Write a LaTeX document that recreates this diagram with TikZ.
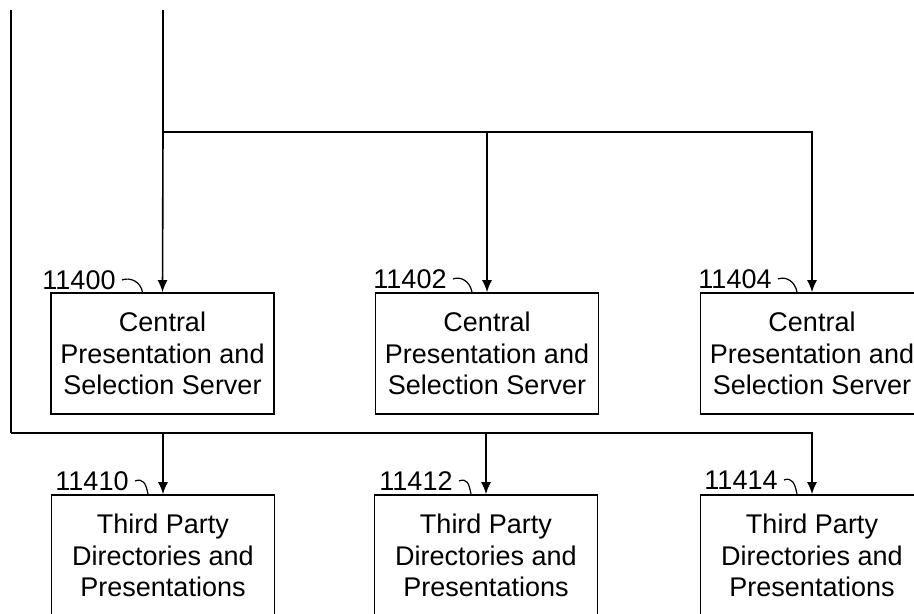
\documentclass[tikz,border=0pt]{standalone}
\usepackage{fontspec}
\setmainfont{Liberation Sans}
\usetikzlibrary{arrows.meta}
\tikzset{
  box/.style={draw, line width=0.8pt, minimum width=111.5pt, minimum height=60.5pt, inner sep=0pt, align=center, font=\fontsize{13.5}{15.75}\selectfont},
  refno/.style={inner sep=0pt, font=\fontsize{13.5}{15.75}\selectfont},
  wire/.style={line width=0.8pt},
  feed/.style={wire, -{Latex[length=6pt,width=5pt]}},
  lead/.style={line width=0.6pt}
}
% leader from a reference number to the top edge of its box
\newcommand{\leader}[3]{ \draw[lead] ([xshift=3pt]#1.east) .. controls +(8,-3) and +(-2,-11) .. ([xshift=#3]#2.north); }

\begin{document}
\begin{tikzpicture}[x=0.5pt, y=-0.5pt]
\useasboundingbox (0,0) rectangle (914,614);
\clip (0,0) rectangle (914,614);

% row1
\node[box] (cps1) at (162.5,353.5) {Central\\Presentation and\\Selection Server};
\node[box] (cps2) at (487,353.5) {Central\\Presentation and\\Selection Server};
\node[box] (cps3) at (812,353.5) {Central\\Presentation and\\Selection Server};
% row2
\node[box] (tpd1) at (163,555.5) {Third Party\\Directories and\\Presentations};
\node[box] (tpd2) at (486,555.5) {Third Party\\Directories and\\Presentations};
\node[box] (tpd3) at (812,555.5) {Third Party\\Directories and\\Presentations};

% reference numbers
\node[refno] (n11400) at (79,280) {11400};
\node[refno] (n11402) at (410,279) {11402};
\node[refno] (n11404) at (735,279) {11404};
\node[refno] (n11410) at (92,481) {11410};
\node[refno] (n11412) at (416,481) {11412};
\node[refno] (n11414) at (741,480) {11414};
\leader{n11400}{cps1}{-10pt}
\leader{n11402}{cps2}{-7.5pt}
\leader{n11404}{cps3}{-7.5pt}
\leader{n11410}{tpd1}{-7.5pt}
\leader{n11412}{tpd2}{-7.5pt}
\leader{n11414}{tpd3}{-7.5pt}

% incoming lines
\coordinate (top) at (163,10);
\coordinate (split) at (163,132);
\coordinate (side) at (11,10);
\coordinate (bus) at (11,433);

\draw[wire] (top) -- (split);
\draw[feed] (split) -- (cps1.north);
\draw[feed] (split) -| (cps2.north);
\draw[feed] (split) -| (cps3.north);

\draw[wire] (side) -- (bus);
\draw[feed] (bus) -| (tpd1.north);
\draw[feed] (bus) -| (tpd2.north);
\draw[feed] (bus) -| (tpd3.north);

\end{tikzpicture}
\end{document}
